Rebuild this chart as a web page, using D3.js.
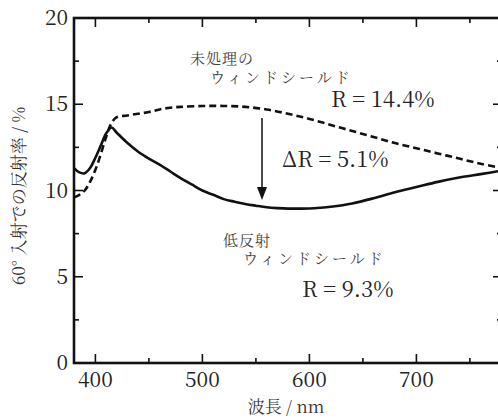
<!DOCTYPE html>
<html>
<head>
<meta charset="utf-8">
<script src="https://cdn.jsdelivr.net/npm/d3@7"></script>
</head>
<body style="margin:0">
<script>
// wavelength (nm) and reflectance (%)
var lowWl = [380, 385, 390, 395, 400, 405, 410, 415, 420, 430, 440, 450, 460, 470, 480, 490, 500, 510, 520, 530, 540, 550, 560, 570, 580, 590, 600, 610, 620, 640, 660, 680, 700, 720, 740, 760, 780];
var lowR  = [11.3, 11.05, 11.0, 11.3, 11.9, 12.6, 13.3, 13.65, 13.35, 12.75, 12.25, 11.85, 11.5, 11.1, 10.7, 10.35, 10.0, 9.75, 9.5, 9.35, 9.22, 9.12, 9.03, 8.98, 8.95, 8.95, 8.96, 9.0, 9.06, 9.25, 9.55, 9.9, 10.2, 10.5, 10.75, 10.95, 11.15];
var rawWl = [380, 385, 390, 395, 400, 405, 410, 415, 420, 430, 440, 450, 460, 470, 480, 500, 520, 540, 560, 580, 600, 620, 640, 660, 680, 700, 720, 740, 760, 780];
var rawR  = [9.6, 9.75, 10.0, 10.5, 11.2, 12.1, 13.1, 13.9, 14.25, 14.35, 14.45, 14.55, 14.7, 14.8, 14.85, 14.9, 14.9, 14.85, 14.7, 14.45, 14.15, 13.8, 13.45, 13.1, 12.75, 12.45, 12.15, 11.85, 11.55, 11.3];
var xTicks = [400, 500, 600, 700];
var xMinor = [450, 550, 650, 750];
var yTicks = [0, 5, 10, 15, 20];
var yMinor = [2.5, 7.5, 12.5, 17.5];

var W = 498, H = 418;
var svg = d3.select("body").append("svg")
    .attr("width", W)
    .attr("height", H)
    .style("display", "block");

var x = d3.scaleLinear().domain([380, 780]).range([74, 502]);
var y = d3.scaleLinear().domain([0, 20]).range([363, 18]);

var jp = "Noto Serif CJK JP";

// curves
var line = d3.line()
    .x(function (d) { return x(d[0]); })
    .y(function (d) { return y(d[1]); })
    .curve(d3.curveCatmullRom);

svg.append("path")
    .datum(d3.zip(rawWl, rawR))
    .attr("d", line)
    .attr("fill", "none")
    .attr("stroke", "#111")
    .attr("stroke-width", 2.6)
    .attr("stroke-dasharray", "7,4");

svg.append("path")
    .datum(d3.zip(lowWl, lowR))
    .attr("d", line)
    .attr("fill", "none")
    .attr("stroke", "#111")
    .attr("stroke-width", 2.6);

// axes: ticks point inward on all four sides
var g = svg.append("g").attr("stroke", "#111");
function ticks(vals, len, horiz) {
    vals.forEach(function (v) {
        if (horiz) {
            g.append("line").attr("x1", x(v)).attr("x2", x(v)).attr("y1", y(0)).attr("y2", y(0) - len).attr("stroke-width", 1.6);
            g.append("line").attr("x1", x(v)).attr("x2", x(v)).attr("y1", y(20)).attr("y2", y(20) + len).attr("stroke-width", 1.6);
        } else {
            g.append("line").attr("x1", x(380)).attr("x2", x(380) + len).attr("y1", y(v)).attr("y2", y(v)).attr("stroke-width", 1.6);
            g.append("line").attr("x1", x(780)).attr("x2", x(780) - len).attr("y1", y(v)).attr("y2", y(v)).attr("stroke-width", 1.6);
        }
    });
}
ticks(xTicks, 9, true);
ticks(xMinor, 5, true);
ticks(yTicks, 9, false);
ticks(yMinor, 5, false);

svg.append("rect")
    .attr("x", x(380)).attr("y", y(20))
    .attr("width", x(780) - x(380)).attr("height", y(0) - y(20))
    .attr("fill", "none").attr("stroke", "#111").attr("stroke-width", 2.6);

// tick labels
svg.selectAll(".xl").data(xTicks).enter().append("text")
    .attr("x", function (d) { return x(d); })
    .attr("y", 387)
    .attr("text-anchor", "middle")
    .attr("font-size", 21).attr("fill", "#222")
    .attr("font-family", jp)
    .text(function (d) { return d; });

svg.selectAll(".yl").data(yTicks).enter().append("text")
    .attr("x", 68)
    .attr("y", function (d) { return y(d) + 7; })
    .attr("text-anchor", "end")
    .attr("font-size", 21).attr("fill", "#222")
    .attr("font-family", jp)
    .text(function (d) { return d; });

// axis titles
svg.append("text")
    .attr("transform", "translate(25,196) rotate(-90)")
    .attr("text-anchor", "middle")
    .attr("font-size", 17).attr("fill", "#333")
    .attr("font-family", jp)
    .text("60° 入射での反射率 / %");

svg.append("text")
    .attr("x", 286).attr("y", 413)
    .attr("text-anchor", "middle")
    .attr("font-size", 17).attr("fill", "#333")
    .attr("font-family", jp)
    .text("波長 /  nm");

// annotations
function note(tx, ty, str, size, spacing, col) {
    svg.append("text")
        .attr("x", tx).attr("y", ty)
        .attr("font-size", size)
        .attr("font-family", jp)
        .attr("letter-spacing", spacing || 0)
        .attr("fill", col)
        .text(str);
}
note(190, 64, "未処理の", 15, 1, "#444");
note(210, 83, "ウィンドシールド", 15, 3, "#444");
note(331, 107, "R = 14.4%", 22, 0, "#222");
note(282, 167, "ΔR = 5.1%", 22, 0, "#222");
note(223, 246, "低反射", 15, 1, "#444");
note(243, 264, "ウィンドシールド", 15, 3, "#444");
note(302, 297, "R = 9.3%", 22, 0, "#222");

// arrow
svg.append("line")
    .attr("x1", 262).attr("x2", 262)
    .attr("y1", 118).attr("y2", 190)
    .attr("stroke", "#111").attr("stroke-width", 1.5);
svg.append("path")
    .attr("d", "M257,187 L267,187 L262,200 Z")
    .attr("fill", "#111");
</script>
</body>
</html>
